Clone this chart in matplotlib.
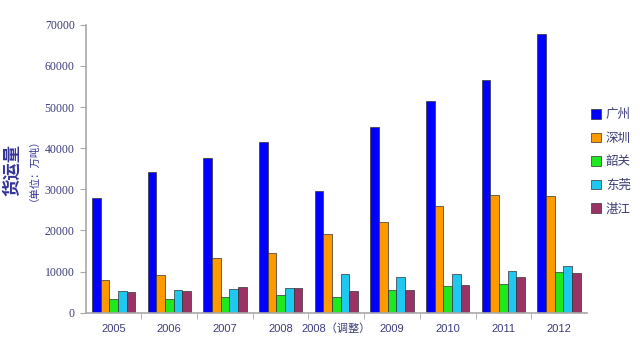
import numpy as np
import matplotlib.pyplot as plt

plt.rcParams['font.family'] = ['Noto Sans CJK SC', 'DejaVu Sans']

years = ['2005', '2006', '2007', '2008', '2008（调整）', '2009', '2010', '2011', '2012']
guangzhou = [27900, 34300, 37600, 41400, 29700, 45200, 51400, 56600, 67800]
shenzhen = [7900, 9100, 13400, 14400, 19200, 22000, 25900, 28600, 28300]
shaoguan = [3300, 3400, 3800, 4300, 3800, 5400, 6400, 7100, 9800]
dongguan = [5200, 5400, 5700, 5900, 9300, 8600, 9300, 10100, 11300]
zhanjiang = [4950, 5300, 6200, 5900, 5200, 5400, 6700, 8800, 9600]

cities = ['广州', '深圳', '韶关', '东莞', '湛江']
colors = ['#0000ff', '#ff9900', '#1ee81e', '#1ec8f0', '#993366']
series = [guangzhou, shenzhen, shaoguan, dongguan, zhanjiang]

text_color = '#3c3c7a'
axis_color = '#a8a8a8'

fig = plt.figure(figsize=(6.4, 3.39), dpi=100)
ax = fig.add_axes([0.134, 0.0776, 0.783, 0.849])

x = np.arange(len(years))
w = 0.156
for i, (vals, name, c) in enumerate(zip(series, cities, colors)):
    ax.bar(x + (i - 2) * w, vals, w, color=c, edgecolor='#333333', linewidth=0.5, label=name)

ax.set_xlim(-0.5, len(years) - 0.5)
ax.set_ylim(0, 70000)
ax.set_yticks(range(0, 70001, 10000))
ax.set_yticklabels([str(v) for v in range(0, 70001, 10000)],
                   family='Liberation Serif', fontsize=8.5, color=text_color)

# category labels at the centres, tick marks at the boundaries
ax.set_xticks(x)
ax.set_xticklabels(years, fontsize=8, color=text_color, family=['Liberation Sans', 'Noto Sans CJK SC'])
ax.tick_params(axis='x', length=0, pad=8)
ax.set_xticks(np.arange(0.5, len(years) - 0.5, 1), minor=True)
ax.tick_params(axis='x', which='minor', length=4, color=axis_color, direction='out')
ax.tick_params(axis='y', length=4, color=axis_color, direction='out', pad=4)

for side in ['top', 'right']:
    ax.spines[side].set_visible(False)
for side in ['left', 'bottom']:
    ax.spines[side].set_color(axis_color)
    ax.spines[side].set_linewidth(1.2)

fig.text(0.019, 0.498, '货运量', rotation=90, ha='center', va='center',
         fontsize=12.5, fontweight='bold', color='#333399')
fig.text(0.044, 0.513, '（单位：万吨）', rotation=90, ha='center', va='center',
         fontsize=7.5, color='#333399')

leg = ax.legend(loc='upper left', bbox_to_anchor=(0.985, 0.75), frameon=False,
                fontsize=9, handlelength=0.8, handleheight=0.8, handletextpad=0.4,
                labelspacing=0.85)
for t in leg.get_texts():
    t.set_color(text_color)

fig.savefig('out.png', dpi=100)
